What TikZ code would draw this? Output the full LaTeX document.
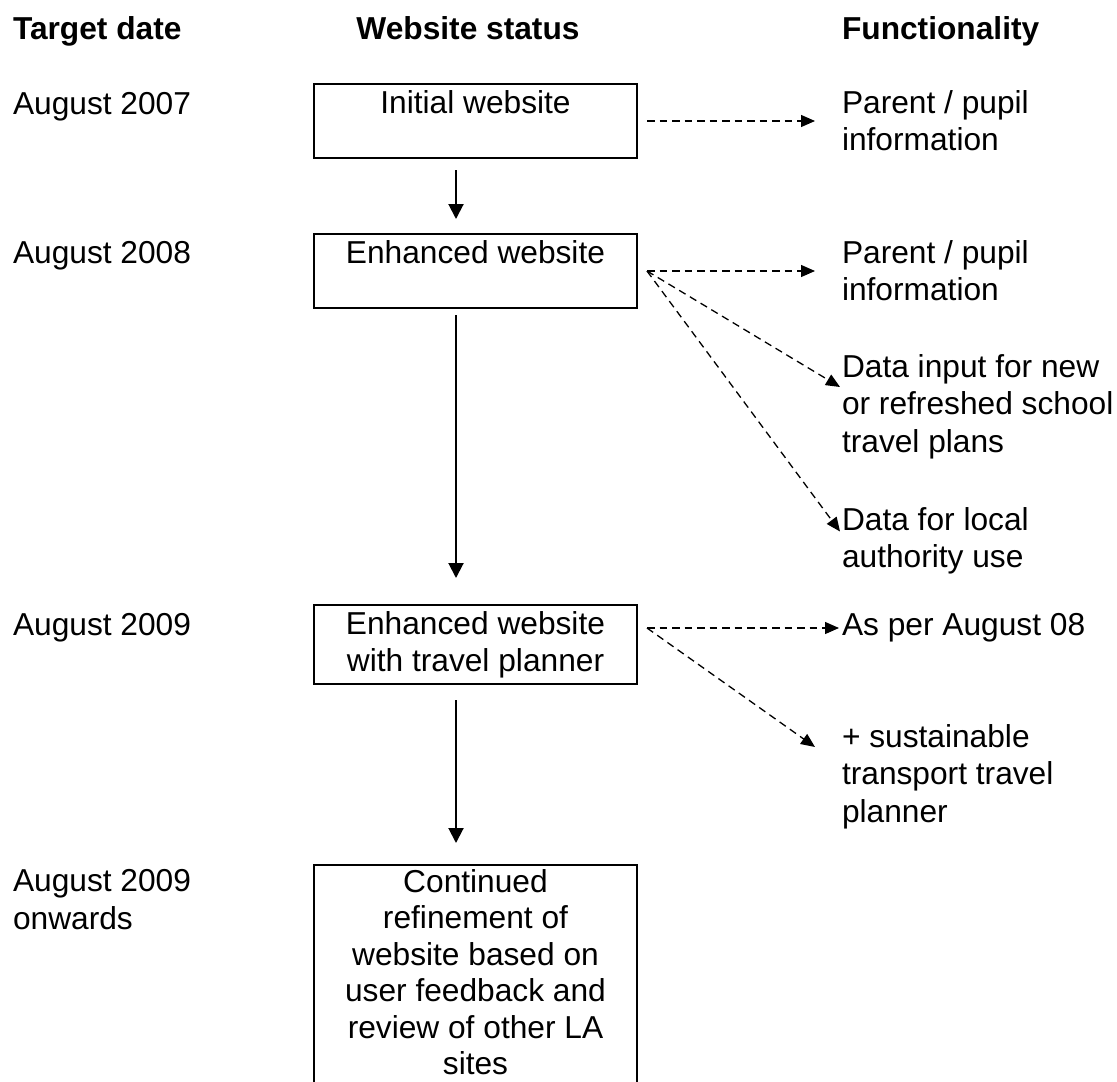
\documentclass[tikz,border=0pt]{standalone}
\usepackage{fontspec}
\setmainfont{Liberation Sans}
\usetikzlibrary{arrows.meta, positioning}

\begin{document}
\begin{tikzpicture}[
			x=0.5pt, y=-0.5pt,
			nodes = {
				font=\fontsize{15.85}{18.75}\selectfont,
				inner sep=0pt,
				outer sep=0pt
			},
			block/.style={
				draw,
				line width=0.9pt,
				rectangle,
				anchor=north,
				align=center,
				minimum width=161.5pt,
				text height=14.5pt,
				text depth=22.5pt
			},
			lbl/.style={
				anchor=base west,
				align=left
			},
			head/.style={
				anchor=base west,
				font=\fontsize{15.85}{18.75}\selectfont\bfseries
			},
			lines/.style={
				line width=1pt,
				-{Triangle[length=7.5pt,width=7.5pt]}
			},
			dlines/.style={
				line width=0.65pt,
				dash pattern=on 3.75pt off 2.5pt,
				-{Triangle[length=7pt,width=6pt]}
			}
		]
			\useasboundingbox (0,0) rectangle (1117,1081);
			\clip (0,0) rectangle (1117,1081);

			% headings
			\node[head] (hdate) at (13,40) {Target date};
			\node[head,anchor=base] (hstat) at (468,40) {Website status};
			\node[head] (hfunc) at (842,40) {Functionality};

			% website stages
			\node[block] (init) at (475.5,84) {Initial website};
			\node[block] (enh) at (475.5,234) {Enhanced website};
			\node[block,text height=33.25pt,text depth=6.25pt] (wtp) at (475.5,605) {
				Enhanced website\\
				with travel planner
			};
			\node[block,font=\fontsize{15.85}{18.25}\selectfont,
				text height=104.75pt,text depth=20pt] (cont) at (475.5,865) {
				Continued\\
				refinement of\\
				website based on\\
				user feedback and\\
				review of other LA\\
				sites
			};

			% dates (placed by the baseline of the last line)
			\node[lbl] (d07) at (13,114) {August 2007};
			\node[lbl] (d08) at (13,263) {August 2008};
			\node[lbl] (d09) at (13,635) {August 2009};
			\node[lbl] (don) at (13,929) {August 2009\\onwards};

			% functionality
			\node[lbl] (par1) at (842,150.5) {Parent / pupil\\information};
			\node[lbl] (par2) at (842,300.5) {Parent / pupil\\information};
			\node[lbl] (datin) at (842,452) {
				Data input for new\\
				or refreshed school\\
				travel plans
			};
			\node[lbl] (datloc) at (842,567.5) {Data for local\\authority use};
			\node[lbl] (asper) at (842,635) {As per August 08};
			\node[lbl] (sust) at (842,822) {
				+ sustainable\\
				transport travel\\
				planner
			};

			\draw[lines] ([xshift=-9.75pt,yshift=-6pt]init.south) -- ([xshift=-9.75pt,yshift=7.5pt]enh.north);
			\draw[lines] ([xshift=-9.75pt,yshift=-3.5pt]enh.south) -- ([xshift=-9.75pt,yshift=13.5pt]wtp.north);
			\draw[lines] ([xshift=-9.75pt,yshift=-8pt]wtp.south) -- ([xshift=-9.75pt,yshift=11pt]cont.north);

			\draw[dlines,shorten >=13.5pt] ([xshift=5pt]init.east) -- (init.east -| par1.west);

			\coordinate (e2) at ([xshift=5pt]enh.east);
			\draw[dlines,shorten >=13.5pt] (e2) -- (e2 -| par2.west);
			\draw[dlines] (e2) -- ([xshift=-1pt,yshift=32.5pt]datin.base west);
			\draw[dlines] (e2) -- ([xshift=-1pt,yshift=18pt]datloc.base west);

			\coordinate (e3) at ([xshift=5pt,yshift=8.25pt]wtp.east);
			\draw[dlines,shorten >=1.5pt] (e3) -- (e3 -| asper.west);
			\draw[dlines] (e3) -- ([xshift=-13.5pt,yshift=37.5pt]sust.base west);
		\end{tikzpicture}
\end{document}
